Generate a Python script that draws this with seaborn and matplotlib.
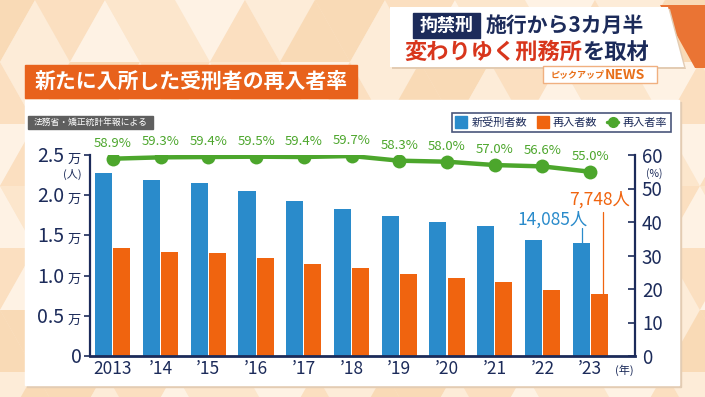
import matplotlib
matplotlib.use("Agg")
import matplotlib.pyplot as plt
import seaborn as sns
import numpy as np
import pandas as pd
from matplotlib.patches import Rectangle, Polygon
from matplotlib.lines import Line2D

# ---------------- data ----------------
years = ["2013", "’14", "’15", "’16", "’17", "’18", "’19", "’20", "’21", "’22", "’23"]
new_inmates = [22755, 21866, 21539, 20467, 19336, 18272, 17464, 16620, 16152, 14460, 14085]
reentrants = [13406, 12967, 12794, 12178, 11486, 10909, 10182, 9640, 9207, 8184, 7748]
reentry_rate = [58.9, 59.3, 59.4, 59.5, 59.4, 59.7, 58.3, 58.0, 57.0, 56.6, 55.0]
series_names = ["新受刑者数", "再入者数", "再入者率"]
left_ticks = [0, 5000, 10000, 15000, 20000, 25000]
left_tick_labels = ["0", "0.5", "1.0", "1.5", "2.0", "2.5"]
right_ticks = [0, 10, 20, 30, 40, 50, 60]

BLUE = "#2a8bcb"
ORANGE = "#f0640f"
GREEN = "#4ca62c"
NAVY = "#1c2b5a"
RED = "#d8361c"

sns.set_theme(style="white")
plt.rcParams["font.family"] = ["Noto Sans CJK JP", "DejaVu Sans"]

W, H = 705, 397
fig = plt.figure(figsize=(W / 100, H / 100), dpi=100)

# ---------------- background / decoration (pixel axes) ----------------
bg = fig.add_axes([0, 0, 1, 1])
bg.set_xlim(0, W)
bg.set_ylim(H, 0)
bg.axis("off")
bg.set_zorder(0)
bg.add_patch(Rectangle((0, 0), W, H, color="#fce6cc", zorder=0))
shades = ["#fdecd8", "#fbdfc0", "#fef2e4", "#f9dab6", "#fce6cc"]
tw, th = 70, 62
for r in range(8):
    for c in range(-1, 12):
        x0 = c * tw + (tw / 2 if r % 2 else 0)
        y0 = r * th
        up = [(x0, y0 + th), (x0 + tw / 2, y0), (x0 + tw, y0 + th)]
        dn = [(x0 + tw / 2, y0), (x0 + tw * 1.5, y0), (x0 + tw, y0 + th)]
        bg.add_patch(Polygon(up, closed=True, color=shades[(r * 3 + c * 2) % 5], lw=0, zorder=0.5))
        bg.add_patch(Polygon(dn, closed=True, color=shades[(r * 2 + c * 3 + 1) % 5], lw=0, zorder=0.5))

# main white panel
bg.add_patch(Rectangle((27, 102), 654, 285, color="#e3ccb3", zorder=1))
bg.add_patch(Rectangle((25, 100), 654, 285, color="white", zorder=1.1))

# orange title box
bg.add_patch(Rectangle((25, 65), 332, 33, color="#e8621c", zorder=2))
bg.text(191, 81.5, "新たに入所した受刑者の再入者率", color="white", fontsize=15,
        fontweight="bold", ha="center", va="center", zorder=3)

# source label
bg.add_patch(Rectangle((28, 116), 125, 13, color="#5f5f5f", zorder=2))
bg.text(90.5, 122.5, "法務省・矯正統計年報による", color="white", fontsize=6.3,
        ha="center", va="center", zorder=3)

# top-right headline box
bg.add_patch(Polygon([(660, 5), (705, 5), (705, 68), (695, 68)], closed=True,
                     color="#ea7434", lw=0, zorder=1.5))
bg.add_patch(Polygon([(392, 9), (670, 9), (686, 69), (392, 69)], closed=True,
                     color="#e3ccb3", lw=0, zorder=1.8))
bg.add_patch(Polygon([(390, 7), (668, 7), (684, 67), (390, 67)], closed=True,
                     color="white", lw=0, zorder=2))
bg.add_patch(Rectangle((413, 13), 67, 25, color=NAVY, zorder=3))
bg.text(446.5, 25, "拘禁刑", color="white", fontsize=13, fontweight="bold",
        ha="center", va="center", zorder=4)
bg.text(486, 25, "施行から3カ月半", color=NAVY, fontsize=15, fontweight="bold",
        ha="left", va="center", zorder=4)
t1 = bg.text(404, 52, "変わりゆく刑務所", color=RED, fontsize=16, fontweight="bold",
             ha="left", va="center", zorder=4)
bg.annotate("を取材", xy=(1, 0), xycoords=t1, color=NAVY, fontsize=16,
            fontweight="bold", ha="left", va="bottom", zorder=4)
bg.add_patch(Rectangle((543, 66), 114, 17, facecolor="white", edgecolor="#f0b080",
                       lw=1, zorder=3))
t2 = bg.text(551, 75, "ピックアップ", color="#e8701a", fontsize=6.5, fontweight="bold",
             ha="left", va="center", zorder=4)
bg.annotate("NEWS", xy=(1, 0.5), xycoords=t2, color="#e8701a", fontsize=10,
            fontweight="bold", ha="left", va="center", zorder=4)

# ---------------- main chart ----------------
L, R, B, T = 90, 635, 356, 155
ax = fig.add_axes([L / W, 1 - B / H, (R - L) / W, (B - T) / H])
ax.set_zorder(1)
ax.patch.set_visible(False)

n = len(years)
df = pd.DataFrame({
    "year": years * 2,
    "value": new_inmates + reentrants,
    "series": [series_names[0]] * n + [series_names[1]] * n,
})
sns.barplot(data=df, x="year", y="value", hue="series", palette=[BLUE, ORANGE],
            width=0.76, gap=0.06, saturation=1, linewidth=0, legend=False, ax=ax)
xlim = (-0.48, 10.94)
ax.set_xlim(*xlim)
ax.set_ylim(0, 25000)
ax.set_xlabel("")
ax.set_ylabel("")
ax.set_yticks(left_ticks)
ax.set_yticklabels([""] * len(left_ticks))
for s in ["top", "right"]:
    ax.spines[s].set_visible(False)
ax.spines["left"].set_color(NAVY)
ax.spines["left"].set_linewidth(1.6)
ax.spines["bottom"].set_color(NAVY)
ax.spines["bottom"].set_linewidth(2)
ax.tick_params(axis="x", length=0, pad=3, labelsize=12.5, labelcolor=NAVY)
ax.tick_params(axis="y", direction="out", length=4, width=1.2, color=NAVY)

ytr = ax.get_yaxis_transform()
for v, lab in zip(left_ticks, left_tick_labels):
    if v == 0:
        ax.annotate(lab, (0, v), xycoords=ytr, xytext=(-5.5, -5), textcoords="offset points",
                    ha="right", va="baseline", fontsize=14, color=NAVY)
    else:
        ax.annotate(lab, (0, v), xycoords=ytr, xytext=(-18.5, -5), textcoords="offset points",
                    ha="right", va="baseline", fontsize=14, color=NAVY)
        ax.annotate("万", (0, v), xycoords=ytr, xytext=(-6.5, -5.5), textcoords="offset points",
                    ha="right", va="baseline", fontsize=9.5, color=NAVY)

ax2 = ax.twinx()
ax2.set_zorder(2)
ax2.patch.set_visible(False)
xs = np.arange(n)
sns.lineplot(x=xs, y=reentry_rate, ax=ax2, color=GREEN, lw=3.2, marker="o",
             markersize=10, markeredgewidth=0, legend=False)
ax2.set_xlim(*xlim)
ax2.set_ylim(0, 60)
ax2.set_yticks(right_ticks)
ax2.set_ylabel("")
for s in ["top", "left", "bottom"]:
    ax2.spines[s].set_visible(False)
ax2.spines["right"].set_color(NAVY)
ax2.spines["right"].set_linewidth(1.6)
ax2.tick_params(axis="y", direction="in", length=5, width=1.2, color=NAVY,
                labelsize=13.5, labelcolor=NAVY, pad=5)

for i, v in enumerate(reentry_rate):
    ax2.annotate(f"{v:.1f}%", (i, v), xytext=(0, 6.5), textcoords="offset points",
                 ha="center", va="bottom", fontsize=9.5, color=GREEN)

# callouts for 2023
last = n - 1
ax.plot([last - 0.17, last - 0.17], [new_inmates[last], 15900], color=BLUE, lw=0.9)
ax.text(last - 0.78, 16900, f"{new_inmates[last]:,}人", color=BLUE, fontsize=12.5,
        ha="center", va="center")
ax.plot([last + 0.27, last + 0.27], [reentrants[last], 17900], color=ORANGE, lw=0.9)
ax.text(last + 0.2, 19500, f"{reentrants[last]:,}人", color=ORANGE, fontsize=12.5,
        ha="center", va="center")

# unit labels
bg.text(72, 174, "(人)", color=NAVY, fontsize=8, ha="center", va="center", zorder=5)
bg.text(654, 174, "(%)", color=NAVY, fontsize=7.5, ha="center", va="center", zorder=5)
bg.text(624, 370, "(年)", color=NAVY, fontsize=8, ha="center", va="center", zorder=5)

# legend
handles = [
    Line2D([], [], marker="s", color=BLUE, ls="none", markersize=9),
    Line2D([], [], marker="s", color=ORANGE, ls="none", markersize=9),
    Line2D([], [], marker="o", color=GREEN, ls="-", lw=2.5, markersize=7),
]
leg = ax2.legend(handles, series_names, loc="center", ncol=3,
                 bbox_to_anchor=(561.5 / W, 1 - 122.5 / H), bbox_transform=fig.transFigure,
                 frameon=True, fancybox=False, edgecolor=NAVY, fontsize=8,
                 handlelength=1.0, handletextpad=0.4, columnspacing=0.9,
                 borderpad=0.35, labelcolor=NAVY)
leg.get_frame().set_linewidth(1.2)

fig.savefig("out.png", dpi=100)
